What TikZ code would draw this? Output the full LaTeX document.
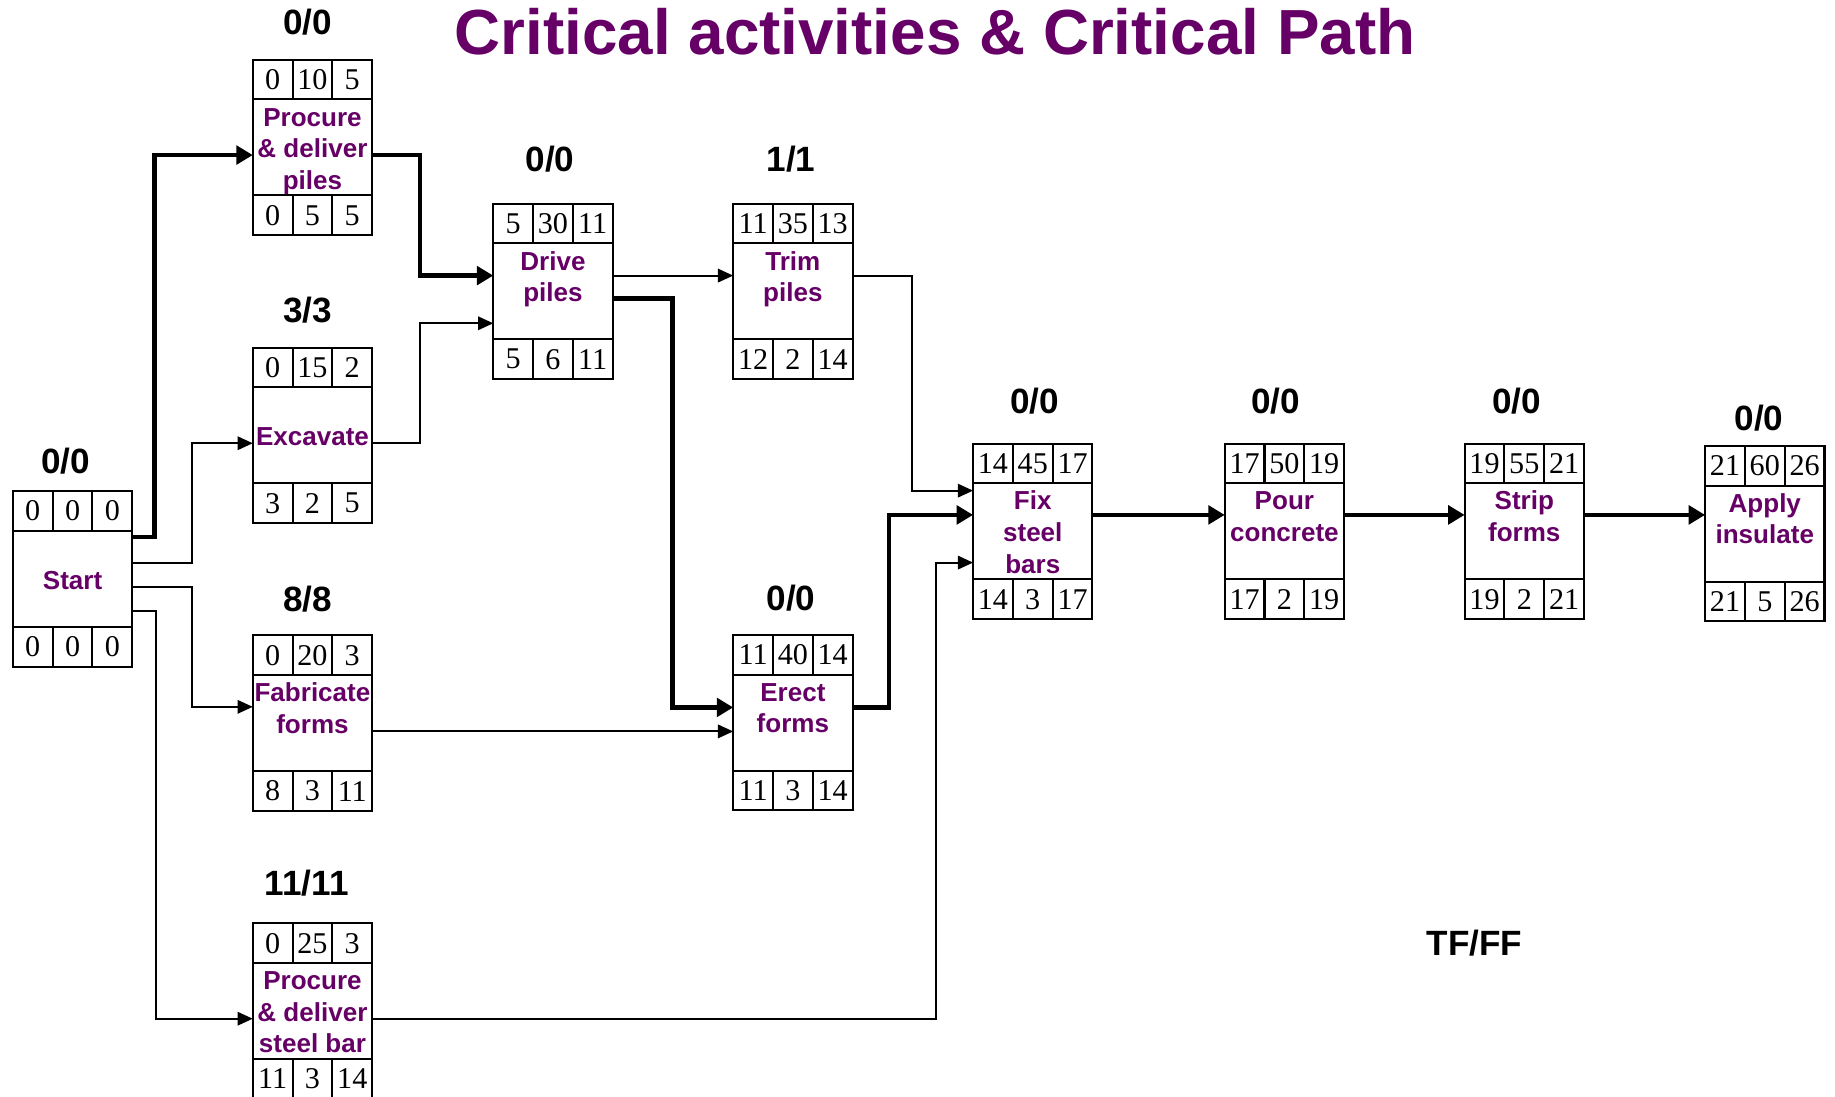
\documentclass[tikz,border=0pt]{standalone}
\usepackage{fontspec}
\setmainfont{Liberation Serif}
\setsansfont{Liberation Sans}
\usetikzlibrary{arrows.meta}
\definecolor{actpurple}{RGB}{102,0,102}
\newcommand{\actstrut}{\rule[-1.9pt]{0pt}{10.8pt}}
% activity box: name, centre, three text lines, top row, bottom row, float position, float
\newcommand{\activity}[9]{%
  \node[actbox] (#1) at (#2) {\actstrut#3\\\actstrut#4\\\actstrut#5};
  \foreach \v [count=\i] in {#6}
    \node[numcell,anchor=south west] (#1-t\i) at ([xshift={(\i-1)*13.6pt}]#1.north west) {\v};
  \foreach \v [count=\i] in {#7}
    \node[numcell,anchor=north west] (#1-b\i) at ([xshift={(\i-1)*13.6pt}]#1.south west) {\v};
  \node[floatlbl] (#1-f) at (#8) {#9};
}
\begin{document}
\begin{tikzpicture}[x=0.4pt,y=-0.4pt,
  every node/.style={outer sep=0pt,inner sep=0pt},
  actbox/.style={draw,line width=0.7pt,minimum width=40.8pt,minimum height=32.8pt,align=center,
    text=actpurple,font=\sffamily\bfseries\fontsize{8.9}{10.8}\selectfont},
  numcell/.style={draw,line width=0.7pt,minimum width=13.6pt,minimum height=13.6pt,
    font=\fontsize{10.3}{12}\selectfont},
  floatlbl/.style={font=\sffamily\bfseries\fontsize{12}{14}\selectfont},
  link/.style={line width=0.65pt,-{Triangle[length=5.2pt,width=4.6pt]}},
  crit/.style={line width=1.5pt,-{Triangle[length=5.6pt,width=6.3pt]}}]
\useasboundingbox (0,0) rectangle (1568,937);
% title
\node[anchor=base,text=actpurple,font=\sffamily\bfseries\fontsize{21.8}{26}\selectfont] (title) at (799,47)
  {Critical activities \& Critical Path};
% activities
\activity{start}{62,494.6}{}{Start}{}{0,0,0}{0,0,0}{56,394}{0/0}
\activity{p1}{267,126}{Procure}{\& deliver}{piles}{0,10,5}{0,5,5}{263,19}{0/0}
\activity{exc}{267,372}{}{Excavate}{}{0,15,2}{3,2,5}{263,265}{3/3}
\activity{fab}{267,618}{Fabricate}{forms}{}{0,20,3}{8,3,11}{263,512}{8/8}
\activity{psteel}{267,864}{Procure}{\& deliver}{steel bar}{0,25,3}{11,3,14}{262,755}{11/11}
\activity{drive}{472.5,249}{Drive}{piles}{}{5,30,11}{5,6,11}{470,136}{0/0}
\activity{trim}{677.5,249}{Trim}{piles}{}{11,35,13}{12,2,14}{676,136}{1/1}
\activity{erect}{677.5,617.5}{Erect}{forms}{}{11,40,14}{11,3,14}{676,511}{0/0}
\activity{fix}{882.5,454}{Fix}{steel}{bars}{14,45,17}{14,3,17}{884,343}{0/0}
\activity{pour}{1097.5,454}{Pour}{concrete}{}{17,50,19}{17,2,19}{1090,343}{0/0}
\activity{strip}{1302.5,454}{Strip}{forms}{}{19,55,21}{19,2,21}{1296,343}{0/0}
\activity{apply}{1508,456}{Apply}{insulate}{}{21,60,26}{21,5,26}{1503,357}{0/0}
\node[floatlbl] (key) at (1260,806) {TF/FF};
% links
\draw[crit] ([yshift=14.2pt]start.east) -- ++(19,0) |- ([yshift=-2.6pt]p1.west);
\draw[link] ([yshift=5.3pt]start.east) -- ++(51,0) |- ([yshift=-2.7pt]exc.west);
\draw[link] ([yshift=-2.7pt]start.east) -- ++(51,0) |- ([yshift=5.6pt]fab.west);
\draw[link] ([yshift=-11pt]start.east) -- ++(20,0) |- ([yshift=-2.6pt]psteel.west);
\draw[crit] ([yshift=-2.6pt]p1.east) -- ++(41,0) |- ([yshift=5.4pt]drive.west);
\draw[link] ([yshift=-2.7pt]exc.east) -- ++(41,0) |- ([yshift=-10.9pt]drive.west);
\draw[link] ([yshift=5.4pt]drive.east) -- ([yshift=5.4pt]drive.east -| trim.west);
\draw[crit] ([yshift=-2.4pt]drive.east) -- ++(51,0) |- ([yshift=5.2pt]erect.west);
\draw[link] ([yshift=-2.8pt]fab.east) -- ([yshift=-2.8pt]fab.east -| erect.west);
\draw[link] ([yshift=5.4pt]trim.east) -- ++(51,0) |- ([yshift=13.9pt]fix.west);
\draw[crit] ([yshift=5.2pt]erect.east) -- ++(31,0) |- ([yshift=5.6pt]fix.west);
\draw[link] ([yshift=-2.8pt]psteel.east) -- ++(482,0) |- ([yshift=-10.7pt]fix.west);
\draw[crit] ([yshift=5.6pt]fix.east) -- ([yshift=5.6pt]fix.east -| pour.west);
\draw[crit] ([yshift=5.6pt]pour.east) -- ([yshift=5.6pt]pour.east -| strip.west);
\draw[crit] ([yshift=5.6pt]strip.east) -- ([yshift=5.6pt]strip.east -| apply.west);
\end{tikzpicture}
\end{document}
